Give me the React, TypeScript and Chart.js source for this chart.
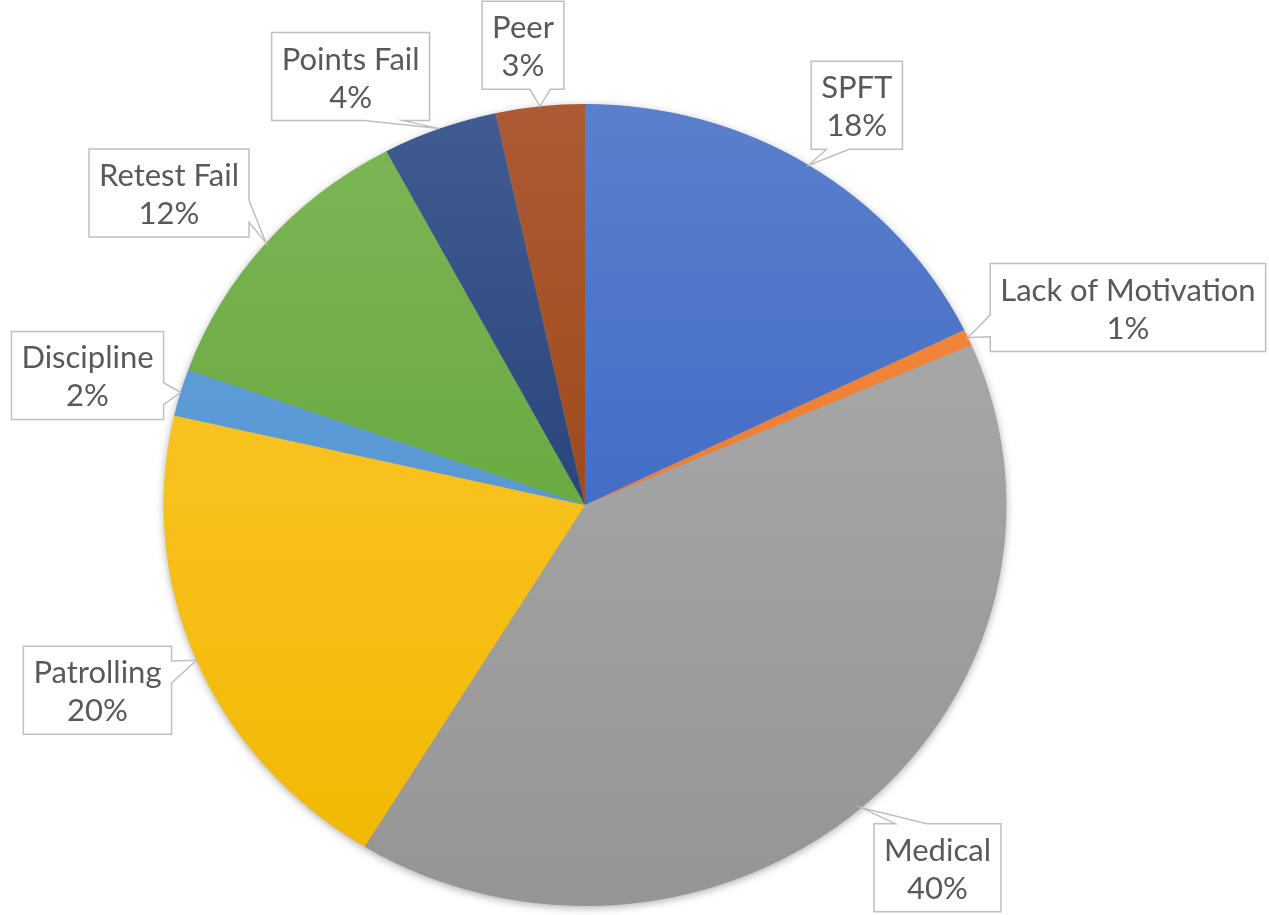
import React, { useEffect, useRef } from "react";
import { Chart, registerables } from "chart.js";

Chart.register(...registerables);

// ---- data ----
const CATEGORIES = [
  "SPFT",
  "Lack of Motivation",
  "Medical",
  "Patrolling",
  "Discipline",
  "Retest Fail",
  "Points Fail",
  "Peer",
];
const VALUES = [17.8, 0.65, 40.25, 19.8, 1.9, 11.7, 4.4, 3.4];

// ---- styles ----
const COLORS_TOP = ["#5A7FCC", "#F58E45", "#AEAEAE", "#FFC935", "#62A2DB", "#7DB757", "#415C90", "#AD5B36"];
const COLORS_BOTTOM = ["#2E5CBF", "#E66D1C", "#959595", "#F0B800", "#5090CC", "#559D2B", "#132F68", "#903A00"];

// label box centre offset from the slice's callout tip
const LABEL_OFFSETS: [number, number][] = [
  [48, -60],
  [160, -30],
  [76, 60],
  [-99, 30],
  [-93, -17],
  [-97, -50],
  [-89, -52],
  [-17, -61],
];

const W = 1269;
const H = 915;
const STRETCH_X = 1.051;
const FONT = '31px Lato, "Open Sans", sans-serif';
const TEXT_COLOR = "#595959";
const BOX_BORDER = "#BFBFBF";
const PAD_X = 10;
const BOX_H = 88;

function calloutPath(ctx: CanvasRenderingContext2D, l: number, t: number, w: number, h: number, tx: number, ty: number) {
  const r = l + w;
  const b = t + h;
  const hc = l + w / 2;
  const vc = t + h / 2;
  const dxPos = tx - hc;
  const dyPos = ty - vc;
  const dq = (dxPos * h) / w;
  const dz = Math.abs(dyPos) - Math.abs(dq);
  const xg1 = dxPos > 0 ? 7 : 2;
  const xg2 = dxPos > 0 ? 10 : 5;
  const yg1 = dyPos > 0 ? 7 : 2;
  const yg2 = dyPos > 0 ? 10 : 5;
  const x1 = l + (w * xg1) / 12;
  const x2 = l + (w * xg2) / 12;
  const y1 = t + (h * yg1) / 12;
  const y2 = t + (h * yg2) / 12;
  let edge: string;
  if (dz > 0) edge = dyPos < 0 ? "top" : "bottom";
  else edge = dxPos < 0 ? "left" : "right";
  ctx.beginPath();
  ctx.moveTo(l, t);
  if (edge === "top") {
    ctx.lineTo(x1, t);
    ctx.lineTo(tx, ty);
    ctx.lineTo(x2, t);
  }
  ctx.lineTo(r, t);
  if (edge === "right") {
    ctx.lineTo(r, y1);
    ctx.lineTo(tx, ty);
    ctx.lineTo(r, y2);
  }
  ctx.lineTo(r, b);
  if (edge === "bottom") {
    ctx.lineTo(x2, b);
    ctx.lineTo(tx, ty);
    ctx.lineTo(x1, b);
  }
  ctx.lineTo(l, b);
  if (edge === "left") {
    ctx.lineTo(l, y2);
    ctx.lineTo(tx, ty);
    ctx.lineTo(l, y1);
  }
  ctx.closePath();
}

const stretchPlugin = {
  id: "stretchPie",
  beforeDatasetsDraw(chart: any) {
    const ctx = chart.ctx as CanvasRenderingContext2D;
    const arc = chart.getDatasetMeta(0).data[0] as any;
    const cx = arc.x;
    const cy = arc.y;
    const r = arc.outerRadius;
    ctx.save();
    ctx.translate(cx, 0);
    ctx.scale(STRETCH_X, 1);
    ctx.translate(-cx, 0);
    ctx.save();
    ctx.shadowColor = "rgba(0,0,0,0.35)";
    ctx.shadowBlur = 8;
    ctx.shadowOffsetY = 2;
    ctx.beginPath();
    ctx.arc(cx, cy, r - 0.5, 0, Math.PI * 2);
    ctx.fillStyle = "#A0A0A0";
    ctx.fill();
    ctx.restore();
  },
  afterDatasetsDraw(chart: any) {
    chart.ctx.restore();
  },
};

const calloutPlugin = {
  id: "callouts",
  afterDraw(chart: any) {
    const ctx = chart.ctx as CanvasRenderingContext2D;
    const meta = chart.getDatasetMeta(0);
    const values = chart.data.datasets[0].data as number[];
    const total = values.reduce((a, b) => a + b, 0);
    ctx.save();
    ctx.font = FONT;
    meta.data.forEach((arc: any, i: number) => {
      const a = (arc.startAngle + arc.endAngle) / 2;
      const r = arc.outerRadius;
      const tx = arc.x + STRETCH_X * r * Math.cos(a);
      const ty = arc.y + r * Math.sin(a);
      const cxL = tx + LABEL_OFFSETS[i][0];
      const cyL = ty + LABEL_OFFSETS[i][1];
      const lines = [chart.data.labels[i] as string, Math.round((values[i] / total) * 100) + "%"];
      const tw = Math.max(...lines.map((s) => ctx.measureText(s).width));
      const bw = tw + PAD_X * 2;
      const l = cxL - bw / 2;
      const t = cyL - BOX_H / 2;
      calloutPath(ctx, l, t, bw, BOX_H, tx, ty);
      ctx.fillStyle = "#FFFFFF";
      ctx.fill();
      ctx.lineWidth = 1.5;
      ctx.strokeStyle = BOX_BORDER;
      ctx.stroke();
      ctx.fillStyle = TEXT_COLOR;
      ctx.textAlign = "center";
      ctx.textBaseline = "alphabetic";
      ctx.fillText(lines[0], cxL, t + 37);
      ctx.fillText(lines[1], cxL, t + 75);
    });
    ctx.restore();
  },
};

export default function App() {
  const ref = useRef<HTMLCanvasElement | null>(null);
  useEffect(() => {
    document.body.style.margin = "0";
    const canvas = ref.current;
    if (!canvas) return;
    const chart = new Chart(canvas, {
      type: "pie",
      data: {
        labels: CATEGORIES,
        datasets: [
          {
            data: VALUES,
            borderWidth: 0,
            hoverOffset: 0,
            offset: 0,
            clip: false as any,
            backgroundColor: (c: any) => {
              const i = c.dataIndex;
              const area = c.chart.chartArea;
              if (!area || i === undefined) return COLORS_TOP[i ?? 0];
              const g = c.chart.ctx.createLinearGradient(0, area.top, 0, area.bottom);
              g.addColorStop(0, COLORS_TOP[i]);
              g.addColorStop(1, COLORS_BOTTOM[i]);
              return g;
            },
          } as any,
        ],
      },
      options: {
        responsive: false,
        maintainAspectRatio: false,
        animation: false,
        events: [],
        layout: { padding: { left: 184, right: 283, top: 104, bottom: 9 } },
        plugins: {
          legend: { display: false },
          tooltip: { enabled: false },
          title: { display: false },
        },
      },
      plugins: [stretchPlugin, calloutPlugin],
    });
    return () => chart.destroy();
  }, []);
  return (
    <div style={{ width: W, height: H, overflow: "hidden", background: "#fff" }}>
      <canvas ref={ref} width={W} height={H} style={{ display: "block" }} />
    </div>
  );
}
